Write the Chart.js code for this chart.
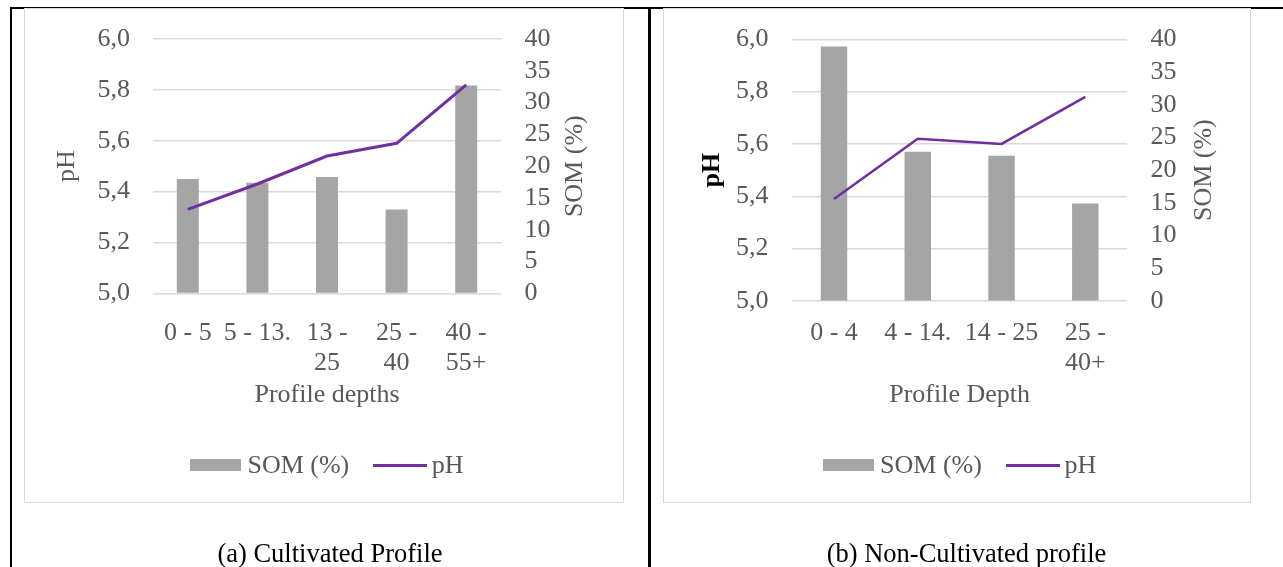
<!DOCTYPE html>
<html>
<head>
<meta charset="utf-8">
<script src="https://cdn.jsdelivr.net/npm/chart.js@4"></script>
<style>
  body { margin: 0; width: 1283px; height: 567px; position: relative; background: #fff; overflow: hidden;
         font-family: "Liberation Serif", "Times New Roman", serif; }
  .rule { position: absolute; background: #000; }
  .frame { position: absolute; box-sizing: border-box; border: 1.5px solid #d9d9d9; }
  canvas { position: absolute; top: 0; }
  .legend { position: absolute; top: 449px; height: 32px; display: flex; justify-content: center; align-items: center;
            font-size: 26px; line-height: 32px; color: #595959; white-space: nowrap; }
  .caption { position: absolute; top: 537px; font-size: 26.5px; line-height: 32px; text-align: center; color: #000; }
</style>
</head>
<body>
<div class="rule" style="left:10px; top:7px; width:1273px; height:2px;"></div>
<div class="rule" style="left:10px; top:7px; width:2px; height:560px;"></div>
<div class="rule" style="left:648px; top:7px; width:2.5px; height:560px;"></div>

<div class="frame" style="left:24px; top:8px; width:600px; height:495px;"></div>
<div class="frame" style="left:663px; top:8px; width:588px; height:495px;"></div>

<canvas id="chartA" width="640" height="567" style="left:0px;"></canvas>
<canvas id="chartB" width="643" height="567" style="left:640px;"></canvas>

<div class="legend" id="legendA"></div>
<div class="legend" id="legendB"></div>

<div class="caption" style="left:11px; width:638px;">(a) Cultivated Profile</div>
<div class="caption" style="left:650px; width:633px;">(b) Non-Cultivated profile</div>

<script>
// data
const cultivatedDepths = ['0 - 5', '5 - 13.', ['13 -', '25'], ['25 -', '40'], ['40 -', '55+']];
const cultivatedSom = [18.0, 17.4, 18.3, 13.2, 32.7];
const cultivatedPh = [5.33, 5.43, 5.54, 5.59, 5.82];

const nonCultivatedDepths = ['0 - 4', '4 - 14.', '14 - 25', ['25 -', '40+']];
const nonCultivatedSom = [38.9, 22.8, 22.2, 14.9];
const nonCultivatedPh = [5.39, 5.62, 5.60, 5.78];

const phTicks = [5.0, 6.0, 0.2];   // min, max, step
const somTicks = [0, 40, 5];

const FONT = '"Liberation Serif", "Times New Roman", serif';
const TEXT_GRAY = '#595959';
const BAR_COLOR = '#a5a5a5';
const LINE_COLOR = '#7030a0';
const GRID_COLOR = '#d9d9d9';

// right axis title reads bottom-to-top, chart.js would turn it the other way
const somTitlePlugin = {
    id: 'somTitle',
    afterDraw(chart, args, opts) {
        const {ctx, chartArea, scales} = chart;
        ctx.save();
        ctx.translate(scales.y1.left + opts.dx, (chartArea.top + chartArea.bottom) / 2);
        ctx.rotate(-Math.PI / 2);
        ctx.font = '26px ' + FONT;
        ctx.fillStyle = TEXT_GRAY;
        ctx.textAlign = 'center';
        ctx.textBaseline = 'middle';
        ctx.fillText('SOM (%)', 0, 0);
        ctx.restore();
    }
};

function makeChart(id, labels, som, ph, o) {
    const font = {family: FONT, size: 26};
    return new Chart(document.getElementById(id), {
        type: 'bar',
        data: {
            labels: labels,
            datasets: [{
                label: 'SOM (%)',
                data: som,
                backgroundColor: BAR_COLOR,
                yAxisID: 'y1',
                order: 2,
                barPercentage: 0.395,
                categoryPercentage: 0.8
            }, {
                type: 'line',
                label: 'pH',
                data: ph,
                borderColor: LINE_COLOR,
                backgroundColor: LINE_COLOR,
                borderWidth: o.lineWidth,
                pointRadius: 0,
                tension: 0,
                yAxisID: 'y',
                order: 1
            }]
        },
        options: {
            responsive: false,
            animation: false,
            layout: {padding: {left: 40, right: o.padRight, top: 37.3, bottom: o.padBottom}},
            plugins: {
                legend: {display: false},
                tooltip: {enabled: false},
                somTitle: {dx: o.somDx}
            },
            scales: {
                x: {
                    grid: {display: false},
                    border: {display: false},
                    ticks: {color: TEXT_GRAY, font: {family: FONT, size: 26, lineHeight: 1.154},
                            padding: o.xTickPad, maxRotation: 0, autoSkip: false},
                    title: {display: true, text: o.xTitle, color: TEXT_GRAY, font: font,
                            padding: {top: 0, bottom: o.xTitlePad}},
                    afterFit: s => { s.height = o.xHeight; }
                },
                y: {
                    position: 'left',
                    min: phTicks[0],
                    max: phTicks[1],
                    ticks: {stepSize: phTicks[2], color: TEXT_GRAY, font: font, padding: o.leftTickPad,
                            autoSkip: false, callback: v => v.toFixed(1).replace('.', ',')},
                    grid: {color: GRID_COLOR, lineWidth: 1.5, drawTicks: false},
                    border: {display: false},
                    title: {display: true, text: 'pH', color: o.phColor,
                            font: {family: FONT, size: 26, weight: o.phWeight},
                            padding: {top: o.phPad, bottom: 0}},
                    afterFit: s => { s.width = o.leftWidth; }
                },
                y1: {
                    position: 'right',
                    min: somTicks[0],
                    max: somTicks[1],
                    ticks: {stepSize: somTicks[2], color: TEXT_GRAY, font: font, padding: o.rightTickPad,
                            autoSkip: false},
                    grid: {drawOnChartArea: false, drawTicks: false},
                    border: {display: false},
                    afterFit: s => { s.width = o.rightWidth; }
                }
            }
        },
        plugins: [somTitlePlugin]
    });
}

function buildLegend(chart, boxId, canvasLeft) {
    const box = document.getElementById(boxId);
    const area = chart.chartArea;
    box.style.left = (canvasLeft + area.left) + 'px';
    box.style.width = (area.right - area.left) + 'px';
    chart.data.datasets.forEach((ds, i) => {
        const sw = document.createElement('span');
        if (ds.type === 'line') {
            sw.style.cssText = 'display:inline-block;width:54px;height:3px;margin-right:4.5px;background:' + ds.borderColor;
        } else {
            sw.style.cssText = 'display:inline-block;width:51px;height:12px;margin-right:6px;background:' + ds.backgroundColor;
        }
        const txt = document.createElement('span');
        txt.textContent = ds.label;
        if (i < chart.data.datasets.length - 1) txt.style.marginRight = '24px';
        box.appendChild(sw);
        box.appendChild(txt);
    });
}

const chartA = makeChart('chartA', cultivatedDepths, cultivatedSom, cultivatedPh, {
    padRight: 40, padBottom: 153.7, leftWidth: 113, rightWidth: 99, xHeight: 120,
    xTickPad: 16.7, xTitlePad: 2.7, leftTickPad: 23, rightTickPad: 23.5,
    phPad: 11.7, phColor: TEXT_GRAY, phWeight: 'normal', somDx: 74.5,
    lineWidth: 3, xTitle: 'Profile depths'
});

const chartB = makeChart('chartB', nonCultivatedDepths, nonCultivatedSom, nonCultivatedPh, {
    padRight: 53, padBottom: 154, leftWidth: 112.1, rightWidth: 102.8, xHeight: 112,
    xTickPad: 9, xTitlePad: 2.4, leftTickPad: 23.7, rightTickPad: 23.3,
    phPad: 16.2, phColor: '#000', phWeight: 'bold', somDx: 76.6,
    lineWidth: 2.6, xTitle: 'Profile Depth'
});

buildLegend(chartA, 'legendA', 0);
buildLegend(chartB, 'legendB', 640);
</script>
</body>
</html>
